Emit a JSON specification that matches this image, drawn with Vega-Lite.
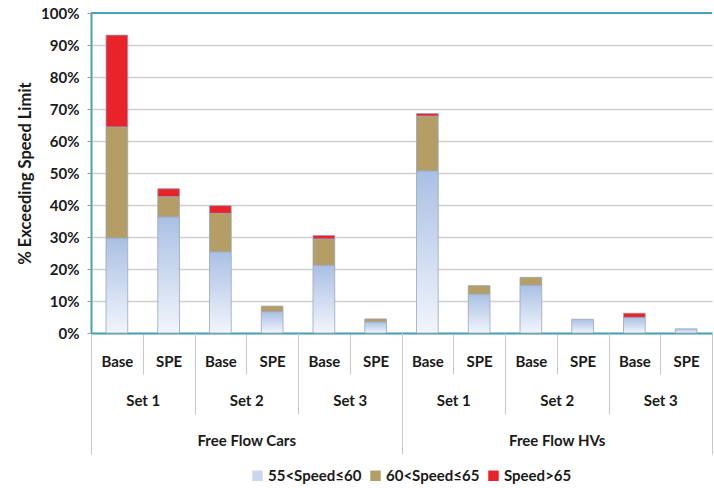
{
  "$schema": "https://vega.github.io/schema/vega-lite/v6.json",
  "width": 621,
  "height": 320,
  "autosize": {"type": "none"},
  "padding": {"left": 91, "top": 13, "right": 2, "bottom": 155},
  "background": "white",
  "config": {
    "view": {"stroke": null},
    "font": "Lato",
    "axis": {"labelFont": "Lato", "titleFont": "Lato", "labelFontWeight": "bold", "titleFontWeight": "bold", "labelColor": "#1a1a1a", "titleColor": "#1a1a1a"},
    "legend": {"labelFont": "Lato", "labelFontWeight": "bold"}
  },
  "data": {
    "values": [
      {"g": "Free Flow Cars", "s": "Set 1", "sc": "Base", "k": "Free Flow Cars|Set 1|Base", "sk": "Free Flow Cars|Set 1", "cat": "55<Speed≤60", "v": 0.297},
      {"g": "Free Flow Cars", "s": "Set 1", "sc": "Base", "k": "Free Flow Cars|Set 1|Base", "sk": "Free Flow Cars|Set 1", "cat": "60<Speed≤65", "v": 0.347},
      {"g": "Free Flow Cars", "s": "Set 1", "sc": "Base", "k": "Free Flow Cars|Set 1|Base", "sk": "Free Flow Cars|Set 1", "cat": "Speed>65", "v": 0.287},
      {"g": "Free Flow Cars", "s": "Set 1", "sc": "SPE", "k": "Free Flow Cars|Set 1|SPE", "sk": "Free Flow Cars|Set 1", "cat": "55<Speed≤60", "v": 0.363},
      {"g": "Free Flow Cars", "s": "Set 1", "sc": "SPE", "k": "Free Flow Cars|Set 1|SPE", "sk": "Free Flow Cars|Set 1", "cat": "60<Speed≤65", "v": 0.063},
      {"g": "Free Flow Cars", "s": "Set 1", "sc": "SPE", "k": "Free Flow Cars|Set 1|SPE", "sk": "Free Flow Cars|Set 1", "cat": "Speed>65", "v": 0.025},
      {"g": "Free Flow Cars", "s": "Set 2", "sc": "Base", "k": "Free Flow Cars|Set 2|Base", "sk": "Free Flow Cars|Set 2", "cat": "55<Speed≤60", "v": 0.254},
      {"g": "Free Flow Cars", "s": "Set 2", "sc": "Base", "k": "Free Flow Cars|Set 2|Base", "sk": "Free Flow Cars|Set 2", "cat": "60<Speed≤65", "v": 0.120},
      {"g": "Free Flow Cars", "s": "Set 2", "sc": "Base", "k": "Free Flow Cars|Set 2|Base", "sk": "Free Flow Cars|Set 2", "cat": "Speed>65", "v": 0.024},
      {"g": "Free Flow Cars", "s": "Set 2", "sc": "SPE", "k": "Free Flow Cars|Set 2|SPE", "sk": "Free Flow Cars|Set 2", "cat": "55<Speed≤60", "v": 0.067},
      {"g": "Free Flow Cars", "s": "Set 2", "sc": "SPE", "k": "Free Flow Cars|Set 2|SPE", "sk": "Free Flow Cars|Set 2", "cat": "60<Speed≤65", "v": 0.017},
      {"g": "Free Flow Cars", "s": "Set 3", "sc": "Base", "k": "Free Flow Cars|Set 3|Base", "sk": "Free Flow Cars|Set 3", "cat": "55<Speed≤60", "v": 0.212},
      {"g": "Free Flow Cars", "s": "Set 3", "sc": "Base", "k": "Free Flow Cars|Set 3|Base", "sk": "Free Flow Cars|Set 3", "cat": "60<Speed≤65", "v": 0.082},
      {"g": "Free Flow Cars", "s": "Set 3", "sc": "Base", "k": "Free Flow Cars|Set 3|Base", "sk": "Free Flow Cars|Set 3", "cat": "Speed>65", "v": 0.011},
      {"g": "Free Flow Cars", "s": "Set 3", "sc": "SPE", "k": "Free Flow Cars|Set 3|SPE", "sk": "Free Flow Cars|Set 3", "cat": "55<Speed≤60", "v": 0.035},
      {"g": "Free Flow Cars", "s": "Set 3", "sc": "SPE", "k": "Free Flow Cars|Set 3|SPE", "sk": "Free Flow Cars|Set 3", "cat": "60<Speed≤65", "v": 0.009},
      {"g": "Free Flow HVs", "s": "Set 1", "sc": "Base", "k": "Free Flow HVs|Set 1|Base", "sk": "Free Flow HVs|Set 1", "cat": "55<Speed≤60", "v": 0.507},
      {"g": "Free Flow HVs", "s": "Set 1", "sc": "Base", "k": "Free Flow HVs|Set 1|Base", "sk": "Free Flow HVs|Set 1", "cat": "60<Speed≤65", "v": 0.171},
      {"g": "Free Flow HVs", "s": "Set 1", "sc": "Base", "k": "Free Flow HVs|Set 1|Base", "sk": "Free Flow HVs|Set 1", "cat": "Speed>65", "v": 0.008},
      {"g": "Free Flow HVs", "s": "Set 1", "sc": "SPE", "k": "Free Flow HVs|Set 1|SPE", "sk": "Free Flow HVs|Set 1", "cat": "55<Speed≤60", "v": 0.122},
      {"g": "Free Flow HVs", "s": "Set 1", "sc": "SPE", "k": "Free Flow HVs|Set 1|SPE", "sk": "Free Flow HVs|Set 1", "cat": "60<Speed≤65", "v": 0.026},
      {"g": "Free Flow HVs", "s": "Set 2", "sc": "Base", "k": "Free Flow HVs|Set 2|Base", "sk": "Free Flow HVs|Set 2", "cat": "55<Speed≤60", "v": 0.150},
      {"g": "Free Flow HVs", "s": "Set 2", "sc": "Base", "k": "Free Flow HVs|Set 2|Base", "sk": "Free Flow HVs|Set 2", "cat": "60<Speed≤65", "v": 0.024},
      {"g": "Free Flow HVs", "s": "Set 2", "sc": "SPE", "k": "Free Flow HVs|Set 2|SPE", "sk": "Free Flow HVs|Set 2", "cat": "55<Speed≤60", "v": 0.043},
      {"g": "Free Flow HVs", "s": "Set 3", "sc": "Base", "k": "Free Flow HVs|Set 3|Base", "sk": "Free Flow HVs|Set 3", "cat": "55<Speed≤60", "v": 0.049},
      {"g": "Free Flow HVs", "s": "Set 3", "sc": "Base", "k": "Free Flow HVs|Set 3|Base", "sk": "Free Flow HVs|Set 3", "cat": "Speed>65", "v": 0.013},
      {"g": "Free Flow HVs", "s": "Set 3", "sc": "SPE", "k": "Free Flow HVs|Set 3|SPE", "sk": "Free Flow HVs|Set 3", "cat": "55<Speed≤60", "v": 0.013}
    ]
  },
  "layer": [
    {
      "mark": {"type": "bar", "width": {"band": 0.42}, "stroke": "#9aa6ba", "strokeWidth": 0.8},
      "encoding": {
        "x": {
          "field": "k", "type": "nominal", "sort": null,
          "scale": {"type": "band", "paddingInner": 0, "paddingOuter": 0},
          "axis": {
            "orient": "bottom",
            "title": null, "labelAngle": 0, "labelExpr": "split(datum.label, '|')[2]",
            "labelFontSize": 15, "labelPadding": -20,
            "tickBand": "extent", "tickSize": 41, "tickColor": "#c8c8c8", "tickWidth": 1,
            "domainColor": "#4aa3b3", "domainWidth": 2, "grid": false
          }
        },
        "y": {
          "field": "v", "type": "quantitative", "aggregate": "sum", "stack": "zero",
          "scale": {"domain": [0, 1], "nice": false},
          "axis": {
            "title": "% Exceeding Speed Limit", "format": ".0%", "values": [0, 0.1, 0.2, 0.3, 0.4, 0.5, 0.6, 0.7, 0.8, 0.9, 1],
            "labelOverlap": false, "labelFlush": false,
            "labelFontSize": 15, "labelPadding": 8, "tickSize": 4, "tickColor": "#999999",
            "titleFontSize": 16.5, "titlePadding": 7,
            "domainColor": "#4aa3b3", "domainWidth": 2,
            "grid": true, "gridColor": "#d0d0d0", "gridWidth": 1.5
          }
        },
        "color": {
          "condition": {
            "test": "datum.cat === '55<Speed≤60'",
            "value": {"gradient": "linear", "x1": 0, "y1": 0, "x2": 0, "y2": 1,
              "stops": [{"offset": 0, "color": "#a9c0e4"}, {"offset": 1, "color": "#f1f5fc"}]}
          },
          "field": "cat", "type": "nominal",
          "scale": {"domain": ["55<Speed≤60", "60<Speed≤65", "Speed>65"], "range": ["#c9d8ef", "#b59e66", "#e8232a"]},
          "legend": {
            "title": null, "orient": "none", "legendX": 159, "legendY": 455, "direction": "horizontal",
            "symbolType": "square", "symbolSize": 110, "symbolStrokeWidth": 0,
            "labelFontSize": 15, "labelColor": "#1a1a1a", "columnPadding": 6, "symbolOffset": 0, "labelOffset": 3
          }
        },
        "order": {"field": "cat", "sort": "ascending"}
      }
    },
    {
      "mark": {"type": "rule", "color": "#4aa3b3", "strokeWidth": 2},
      "encoding": {"y": {"datum": 1, "type": "quantitative",
        "axis": {
            "title": "% Exceeding Speed Limit", "format": ".0%", "values": [0, 0.1, 0.2, 0.3, 0.4, 0.5, 0.6, 0.7, 0.8, 0.9, 1],
            "labelOverlap": false, "labelFlush": false,
            "labelFontSize": 15, "labelPadding": 8, "tickSize": 4, "tickColor": "#999999",
            "titleFontSize": 16.5, "titlePadding": 7,
            "domainColor": "#4aa3b3", "domainWidth": 2,
            "grid": true, "gridColor": "#d0d0d0", "gridWidth": 1.5
          }}}
    },
    {
      "mark": {"type": "rule", "opacity": 0},
      "encoding": {
        "x": {
          "field": "sk", "type": "nominal", "sort": null,
          "scale": {"type": "band", "paddingInner": 0, "paddingOuter": 0},
          "axis": {
            "orient": "bottom",
            "title": null, "labelAngle": 0, "labelExpr": "split(datum.label, '|')[1]",
            "labelFontSize": 15, "labelPadding": -21,
            "tickBand": "extent", "tickSize": 81, "tickColor": "#c8c8c8", "tickWidth": 1,
            "domain": false, "grid": false
          }
        }
      }
    },
    {
      "mark": {"type": "rule", "opacity": 0},
      "encoding": {
        "x": {
          "field": "g", "type": "nominal", "sort": null,
          "scale": {"type": "band", "paddingInner": 0, "paddingOuter": 0},
          "axis": {
            "orient": "bottom",
            "title": null, "labelAngle": 0,
            "labelFontSize": 15, "labelPadding": -21,
            "tickBand": "extent", "tickSize": 121, "tickColor": "#c8c8c8", "tickWidth": 1,
            "domain": false, "grid": false
          }
        }
      }
    }
  ],
  "resolve": {"scale": {"x": "independent"}, "axis": {"x": "independent"}}
}
